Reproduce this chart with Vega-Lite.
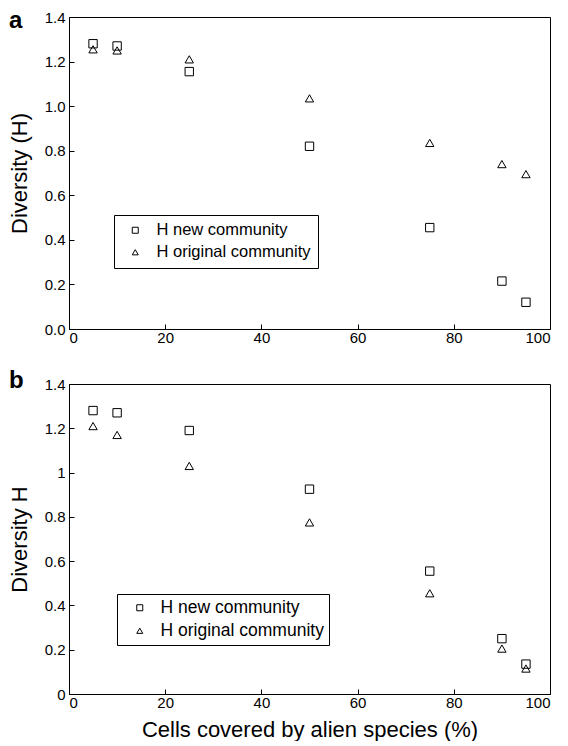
{
  "$schema": "https://vega.github.io/schema/vega-lite/v6.json",
  "padding": {"left": 7, "top": 8, "right": 10, "bottom": 0},
  "background": "white",
  "spacing": 22,
  "resolve": {"scale": {"shape": "independent"}, "legend": {"shape": "independent"}},
  "config": {
    "font": "Liberation Sans",
    "view": {"stroke": "black", "strokeWidth": 1},
    "axis": {
      "domainColor": "black", "tickColor": "black", "tickSize": -5,
      "labelFont": "Liberation Sans", "labelFontSize": 15, "labelColor": "black",
      "titleFont": "Liberation Sans", "titleFontSize": 22, "titleFontWeight": "normal", "titleColor": "black",
      "grid": false, "labelPadding": 9
    },
    "legend": {
      "orient": "none", "strokeColor": "black", "fillColor": "white",
      "labelFont": "Liberation Sans", "labelColor": "black", "labelFontSize": 16.5,
      "symbolSize": 36, "symbolStrokeWidth": 1, "padding": 7, "symbolOffset": 6,
      "labelOffset": 13, "rowPadding": 5, "title": null, "labelLimit": 400
    }
  },
  "vconcat": [
    {
      "width": 481, "height": 312,
      "title": {"text": "a", "fontSize": 24, "fontWeight": "bold", "anchor": "start", "frame": "group", "dx": -60, "offset": -23, "color": "black"},
      "data": {"values": [
        {"x": 5, "H": 1.28, "series": "H new community"},
        {"x": 10, "H": 1.27, "series": "H new community"},
        {"x": 25, "H": 1.155, "series": "H new community"},
        {"x": 50, "H": 0.82, "series": "H new community"},
        {"x": 75, "H": 0.455, "series": "H new community"},
        {"x": 90, "H": 0.215, "series": "H new community"},
        {"x": 95, "H": 0.12, "series": "H new community"},
        {"x": 5, "H": 1.255, "series": "H original community"},
        {"x": 10, "H": 1.25, "series": "H original community"},
        {"x": 25, "H": 1.21, "series": "H original community"},
        {"x": 50, "H": 1.035, "series": "H original community"},
        {"x": 75, "H": 0.835, "series": "H original community"},
        {"x": 90, "H": 0.74, "series": "H original community"},
        {"x": 95, "H": 0.695, "series": "H original community"}
      ]},
      "mark": {"type": "point", "filled": false, "color": "black", "strokeWidth": 1, "size": 70, "opacity": 1},
      "encoding": {
        "x": {"field": "x", "type": "quantitative", "scale": {"domain": [0, 100], "nice": false},
              "axis": {"title": null, "values": [0, 20, 40, 60, 80, 100], "labelPadding": 6}},
        "y": {"field": "H", "type": "quantitative", "scale": {"domain": [0, 1.4], "nice": false},
              "axis": {"title": "Diversity (H)", "format": ".1f", "values": [0, 0.2, 0.4, 0.6, 0.8, 1.0, 1.2, 1.4], "titlePadding": 13}},
        "shape": {"field": "series", "type": "nominal",
                  "scale": {"domain": ["H new community", "H original community"], "range": ["square", "triangle-up"]},
                  "legend": {"legendX": 45, "legendY": 198}}
      }
    },
    {
      "width": 481, "height": 310,
      "title": {"text": "b", "fontSize": 24, "fontWeight": "bold", "anchor": "start", "frame": "group", "dx": -60, "offset": -16, "color": "black"},
      "data": {"values": [
        {"x": 5, "H": 1.28, "series": "H new community"},
        {"x": 10, "H": 1.27, "series": "H new community"},
        {"x": 25, "H": 1.19, "series": "H new community"},
        {"x": 50, "H": 0.925, "series": "H new community"},
        {"x": 75, "H": 0.555, "series": "H new community"},
        {"x": 90, "H": 0.25, "series": "H new community"},
        {"x": 95, "H": 0.135, "series": "H new community"},
        {"x": 5, "H": 1.21, "series": "H original community"},
        {"x": 10, "H": 1.17, "series": "H original community"},
        {"x": 25, "H": 1.03, "series": "H original community"},
        {"x": 50, "H": 0.775, "series": "H original community"},
        {"x": 75, "H": 0.455, "series": "H original community"},
        {"x": 90, "H": 0.205, "series": "H original community"},
        {"x": 95, "H": 0.115, "series": "H original community"}
      ]},
      "mark": {"type": "point", "filled": false, "color": "black", "strokeWidth": 1, "size": 70, "opacity": 1},
      "encoding": {
        "x": {"field": "x", "type": "quantitative", "scale": {"domain": [0, 100], "nice": false},
              "axis": {"title": "Cells covered by alien species (%)", "values": [0, 20, 40, 60, 80, 100], "labelPadding": 6, "titlePadding": 9}},
        "y": {"field": "H", "type": "quantitative", "scale": {"domain": [0, 1.4], "nice": false},
              "axis": {"title": "Diversity H", "format": ".1~f", "values": [0, 0.2, 0.4, 0.6, 0.8, 1.0, 1.2, 1.4], "titlePadding": 13}},
        "shape": {"field": "series", "type": "nominal",
                  "scale": {"domain": ["H new community", "H original community"], "range": ["square", "triangle-up"]},
                  "legend": {"legendX": 48, "legendY": 210, "labelFontSize": 17.5, "symbolOffset": 9, "labelOffset": 12, "padding": 5, "rowPadding": 4}}
      }
    }
  ]
}
